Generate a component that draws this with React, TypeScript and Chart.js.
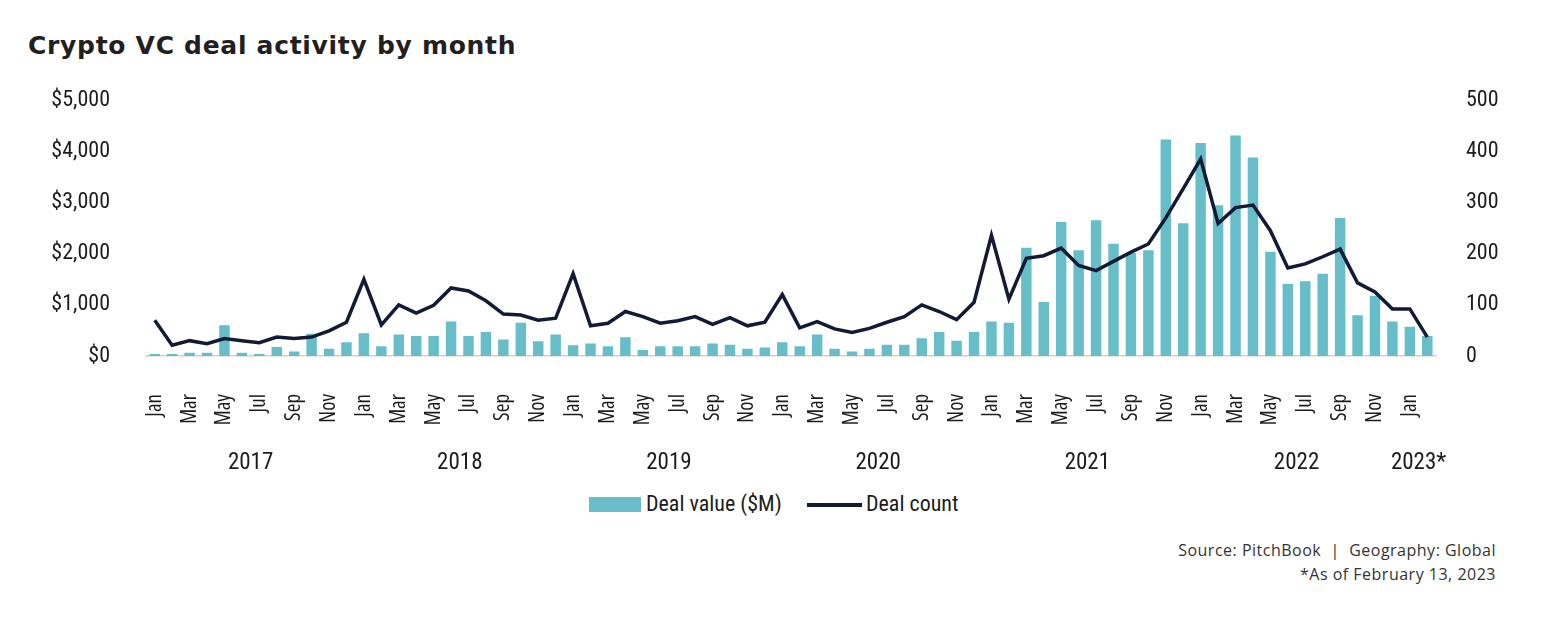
import React, { useEffect, useRef } from "react";
import { Chart, registerables } from "chart.js";

Chart.register(...registerables);

const monthNames = ["Jan", "Feb", "Mar", "Apr", "May", "Jun", "Jul", "Aug", "Sep", "Oct", "Nov", "Dec"];
const months: string[] = [];
for (let y = 0; y < 6; y++) months.push(...monthNames);
months.push("Jan", "Feb");

const dealValue = [
  40, 40, 65, 65, 600, 65, 40, 174, 90, 437, 141, 270,
  444, 193, 418, 392, 392, 676, 392, 470, 322, 650, 290, 418,
  212, 245, 193, 367, 116, 193, 193, 193, 245, 219, 141, 167,
  270, 193, 418, 141, 90, 141, 219, 219, 347, 470, 296, 470,
  676, 650, 2117, 1055, 2619, 2066, 2651, 2194, 2014, 2066, 4234, 2593,
  4164, 2948, 4311, 3880, 2040, 1409, 1461, 1608, 2696, 798, 1178, 676,
  573, 393,
];

const dealCount = [
  70, 21, 30, 24, 34, 30, 26, 37, 34, 37, 49, 66,
  150, 61, 100, 84, 99, 133, 127, 108, 82, 80, 70, 74,
  161, 59, 64, 87, 77, 64, 69, 77, 62, 75, 59, 66,
  120, 55, 67, 53, 46, 54, 66, 77, 100, 87, 71, 105,
  236, 111, 191, 196, 211, 177, 167, 185, 203, 219, 270, 327,
  385, 259, 290, 295, 245, 172, 180, 194, 209, 143, 125, 92,
  92, 37,
];

const yearLabels = ["2017", "2018", "2019", "2020", "2021", "2022", "2023*"];
const yearStart = [0, 12, 24, 36, 48, 60, 72];
const yearEnd = [11, 23, 35, 47, 59, 71, 73];

const leftTicks = [0, 1000, 2000, 3000, 4000, 5000];
const rightTicks = [0, 100, 200, 300, 400, 500];

const BAR = "#67bec8";
const LINE = "#111b35";
const TEXT = "#1c1c1c";
const FAM = "'Open Sans', sans-serif";
const RC = "'Roboto Condensed', 'Open Sans', sans-serif";

export default function App() {
  const ref = useRef<HTMLCanvasElement | null>(null);

  useEffect(() => {
    document.body.style.margin = "0";
    if (!ref.current) return;
    const yearPlugin = {
      id: "yearLabels",
      afterDraw(chart: any) {
        const { ctx, scales, chartArea } = chart;
        const x = scales.x;
        ctx.save();
        ctx.font = `400 23px ${RC}`;
        ctx.fillStyle = TEXT;
        ctx.textAlign = "center";
        ctx.textBaseline = "middle";
        yearLabels.forEach((lab, i) => {
          const px = (x.getPixelForValue(yearStart[i]) + x.getPixelForValue(yearEnd[i])) / 2;
          ctx.fillText(lab, px, chartArea.bottom + 107);
        });
        ctx.restore();
      },
    };
    const chart = new Chart(ref.current, {
      type: "bar",
      data: {
        labels: months,
        datasets: [
          {
            type: "bar",
            label: "Deal value ($M)",
            data: dealValue,
            backgroundColor: BAR,
            yAxisID: "y",
            order: 2,
            barPercentage: 0.6,
            categoryPercentage: 1,
          },
          {
            type: "line",
            label: "Deal count",
            data: dealCount,
            borderColor: LINE,
            backgroundColor: LINE,
            borderWidth: 3.5,
            pointRadius: 0,
            tension: 0,
            yAxisID: "y1",
            order: 1,
          } as any,
        ],
      },
      options: {
        animation: false,
        responsive: false,
        maintainAspectRatio: false,
        layout: { padding: { top: 17, left: 0, right: 0, bottom: 0 } },
        plugins: { legend: { display: false }, tooltip: { enabled: false }, title: { display: false } },
        scales: {
          x: {
            grid: { display: false },
            border: { display: true, color: "#d4cfcb", width: 1.5 },
            ticks: {
              autoSkip: false,
              minRotation: 90,
              maxRotation: 90,
              padding: 30,
              color: TEXT,
              font: { family: FAM, size: 21, weight: "condensed" as any },
              callback: (_v: any, i: number) => (i % 2 === 0 ? months[i] : ""),
            },
            afterFit: (s: any) => {
              s.height = 124;
            },
          },
          y: {
            position: "left",
            min: 0,
            max: 5000,
            grid: { display: false },
            border: { display: false },
            afterBuildTicks: (s: any) => {
              s.ticks = leftTicks.map((v) => ({ value: v }));
            },
            ticks: {
              padding: 28,
              color: TEXT,
              font: { family: RC, size: 22, weight: "400" as any },
              callback: (v: any) => "$" + Number(v).toLocaleString("en-US"),
            },
            afterFit: (s: any) => {
              s.width = 146;
            },
          },
          y1: {
            position: "right",
            min: 0,
            max: 500,
            grid: { display: false },
            border: { display: false },
            afterBuildTicks: (s: any) => {
              s.ticks = rightTicks.map((v) => ({ value: v }));
            },
            ticks: {
              padding: 22,
              color: TEXT,
              font: { family: RC, size: 22, weight: "400" as any },
            },
            afterFit: (s: any) => {
              s.width = 122;
            },
          },
        },
      },
      plugins: [yearPlugin],
    });
    return () => chart.destroy();
  }, []);

  const legendText: React.CSSProperties = {
    position: "absolute",
    top: 491,
    fontFamily: RC,
    fontWeight: 400,
    fontSize: 22,
    lineHeight: "26px",
    color: TEXT,
    whiteSpace: "nowrap",
  };

  return (
    <div style={{ position: "fixed", left: 0, top: 0, width: 1558, height: 642, background: "#fff", overflow: "hidden" }}>
      <div
        style={{
          position: "absolute",
          left: 28,
          top: 31,
          fontFamily: "'DejaVu Sans', sans-serif",
          fontWeight: 700,
          fontSize: 25,
          letterSpacing: 0.7,
          color: "#231f20",
          lineHeight: "30px",
          whiteSpace: "nowrap",
        }}
      >
        Crypto VC deal activity by month
      </div>
      <canvas ref={ref} width={1558} height={421} style={{ position: "absolute", left: 0, top: 59, width: 1558, height: 421 }} />
      <div style={{ position: "absolute", left: 589, top: 497, width: 52, height: 15, background: BAR }} />
      <div style={{ ...legendText, left: 646 }}>Deal value ($M)</div>
      <div style={{ position: "absolute", left: 807, top: 503, width: 55, height: 3.5, background: LINE }} />
      <div style={{ ...legendText, left: 866 }}>Deal count</div>
      <div
        style={{
          position: "absolute",
          right: 62,
          top: 538,
          textAlign: "right",
          fontFamily: FAM,
          fontSize: 16,
          letterSpacing: 0.5,
          lineHeight: "24px",
          color: "#333",
          whiteSpace: "pre",
        }}
      >
        {"Source: PitchBook  |  Geography: Global"}
        <br />
        {"*As of February 13, 2023"}
      </div>
    </div>
  );
}
